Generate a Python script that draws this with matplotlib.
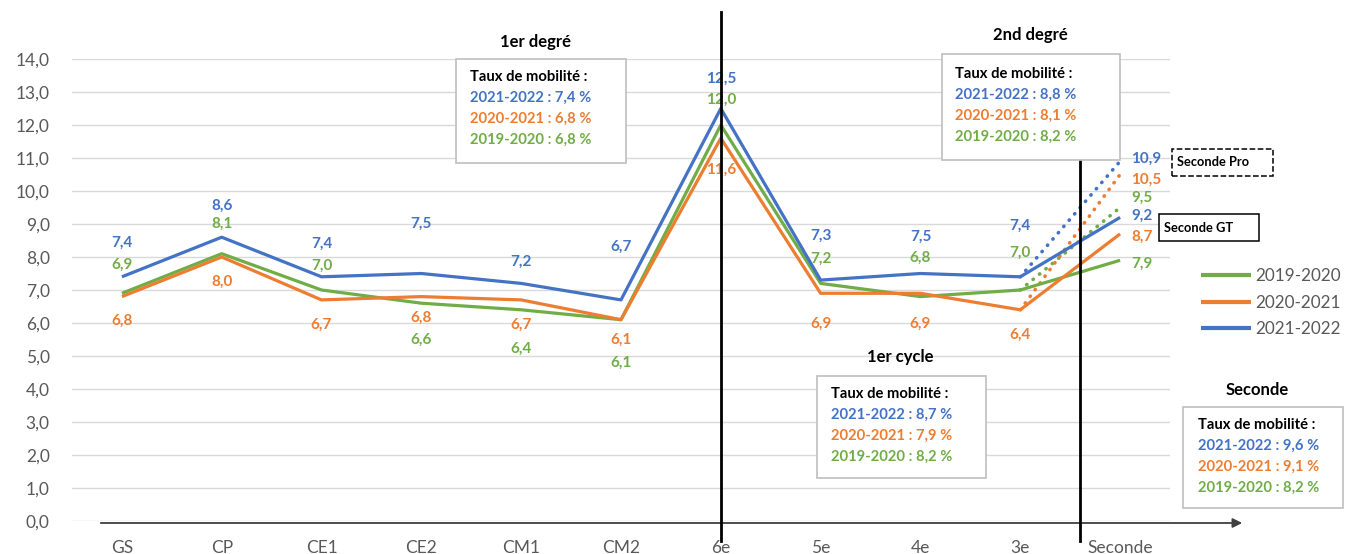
import matplotlib
matplotlib.use('Agg')
import matplotlib.pyplot as pl
from matplotlib.patches import Rectangle

pl.rcParams['font.family'] = ['Lato', 'DejaVu Sans']

# data
niveaux = ['GS', 'CP', 'CE1', 'CE2', 'CM1', 'CM2', '6e', '5e', '4e', '3e', 'Seconde']
annees = ['2019-2020', '2020-2021', '2021-2022']
taux_1920 = [6.9, 8.1, 7.0, 6.6, 6.4, 6.1, 12.0, 7.2, 6.8, 7.0, 7.9]
taux_2021 = [6.8, 8.0, 6.7, 6.8, 6.7, 6.1, 11.6, 6.9, 6.9, 6.4, 8.7]
taux_2122 = [7.4, 8.6, 7.4, 7.5, 7.2, 6.7, 12.5, 7.3, 7.5, 7.4, 9.2]
seconde_pro = [9.5, 10.5, 10.9]

boites = [
    ('1er degré', ['7,4', '6,8', '6,8']),
    ('2nd degré', ['8,8', '8,1', '8,2']),
    ('1er cycle', ['8,7', '7,9', '8,2']),
    ('Seconde', ['9,6', '9,1', '8,2']),
]

couleurs = ['#70AD47', '#ED7D31', '#4472C4']

# label offsets in pixels (up is positive), one list per series
decal = [
    [29, 30, 24, -37, -39, -43, 25, 25, 39, 37, -3],
    [-24, -25, -25, -21, -25, -20, -32, -30, -30, -25, -3],
    [34, 31, 33, 50, 22, 53, 30, 44, 37, 51, 2],
]
decal_pro = [10, -5, 3]

W, H = 1346, 554


def fx(x):
    return x / W


def fy(y):
    return 1 - y / H


def virgule(v):
    return ('%.1f' % v).replace('.', ',')


def main():
    fig = pl.figure(figsize=(W / 100, H / 100), dpi=100)
    ax = fig.add_axes([fx(72), 33 / H, 1098 / W, 462 / H])

    series = [taux_1920, taux_2021, taux_2122]
    x = list(range(len(niveaux)))

    for serie, coul, dec in zip(series, couleurs, decal):
        for i, v in enumerate(serie[:-1]):
            ax.annotate(virgule(v), (i, v), xytext=(0, dec[i]), textcoords='offset pixels',
                        ha='center', va='center', color=coul, fontsize=11, fontweight='bold')
        ax.annotate(virgule(serie[-1]), (x[-1], serie[-1]), xytext=(11, dec[-1]),
                    textcoords='offset pixels', ha='left', va='center', color=coul,
                    fontsize=11, fontweight='bold')

    # dotted lines towards seconde pro
    for serie, pro, coul, dec in zip(series, seconde_pro, couleurs, decal_pro):
        ax.plot([9, 10], [serie[9], pro], color=coul, lw=2.6, linestyle=(0, (0.1, 2.2)),
                dash_capstyle='round', zorder=3)
        ax.annotate(virgule(pro), (10, pro), xytext=(11, dec), textcoords='offset pixels',
                    ha='left', va='center', color=coul, fontsize=11, fontweight='bold')

    courbes = []
    for serie, coul, lab in zip(series, couleurs, annees):
        l, = ax.plot(x, serie, color=coul, lw=2.3, label=lab, zorder=4, solid_capstyle='butt')
        courbes.append(l)

    ax.set_xlim(-0.5, 10.5)
    ax.set_ylim(0, 14)
    ax.set_yticks(range(0, 15))
    ax.set_yticklabels([virgule(v) for v in range(0, 15)])
    ax.set_xticks(x)
    ax.set_xticklabels(niveaux)
    ax.tick_params(axis='both', length=0, labelsize=12.5, labelcolor='#595959')
    ax.tick_params(axis='y', pad=16)
    ax.tick_params(axis='x', pad=14)
    ax.grid(axis='y', color='#d9d9d9', lw=1)
    ax.set_axisbelow(True)
    for s in ax.spines.values():
        s.set_visible(False)

    # vertical separators
    ax.plot([6, 6], [-0.6, 15.42], color='black', lw=2, clip_on=False, zorder=5)
    ax.plot([9.6, 9.6], [-0.6, 10.9], color='black', lw=2, clip_on=False, zorder=5)

    # x axis arrow
    ax.annotate('', xy=(1245, H - 523), xytext=(98, H - 523),
                xycoords='figure pixels', textcoords='figure pixels',
                arrowprops=dict(arrowstyle='-|>', color='#404040', lw=1.3, mutation_scale=14))

    # legend
    leg = ax.legend(handles=courbes, loc='upper left',
                    bbox_to_anchor=(fx(1201), fy(268)), bbox_transform=fig.transFigure,
                    frameon=False, fontsize=12.3, handlelength=2.9, handletextpad=0.3,
                    labelspacing=0.62, borderpad=0, borderaxespad=0)
    for t in leg.get_texts():
        t.set_color('#595959')
    for h in leg.get_lines():
        h.set_linewidth(3)

    # mobility boxes
    cadres = [
        ((535, 42), (456, 59, 626, 163), (470, 77)),
        ((1030, 35), (942, 54, 1120, 160), (955, 74)),
        ((900, 357), (817, 376, 986, 478), (831, 394)),
        ((1257, 390), (1183, 407, 1343, 508), (1198, 425)),
    ]
    for (titre, taux), (tpos, rect, tx) in zip(boites, cadres):
        fig.text(fx(tpos[0]), fy(tpos[1]), titre, ha='center', va='center',
                 fontsize=12, fontweight='bold')
        x0, y0, x1, y1 = rect
        fig.patches.append(Rectangle((fx(x0), fy(y1)), fx(x1 - x0), (y1 - y0) / H,
                                     transform=fig.transFigure, facecolor='white',
                                     edgecolor='#bfbfbf', lw=1.2, zorder=6))
        fig.text(fx(tx[0]), fy(tx[1]), 'Taux de mobilité :', ha='left', va='center',
                 fontsize=10.6, fontweight='bold', zorder=7)
        for k, (an, coul) in enumerate(zip(annees[::-1], couleurs[::-1])):
            fig.text(fx(tx[0]), fy(tx[1] + 21 * (k + 1)), '%s : %s %%' % (an, taux[k]),
                     ha='left', va='center', fontsize=10.6, fontweight='bold', color=coul,
                     zorder=7)

    # seconde pro / GT
    for nom, rect, style in [('Seconde Pro', (1172, 149, 1273, 176), '--'),
                             ('Seconde GT', (1159, 214, 1259, 241), '-')]:
        x0, y0, x1, y1 = rect
        fig.patches.append(Rectangle((fx(x0), fy(y1)), fx(x1 - x0), (y1 - y0) / H,
                                     transform=fig.transFigure, facecolor='white',
                                     edgecolor='black', lw=1.1, linestyle=style, zorder=6))
        fig.text(fx(x0 + 5), fy((y0 + y1) / 2), nom, ha='left', va='center',
                 fontsize=9.3, fontweight='bold', zorder=7)

    fig.savefig('out.png', dpi=100)


if __name__ == '__main__':
    main()
